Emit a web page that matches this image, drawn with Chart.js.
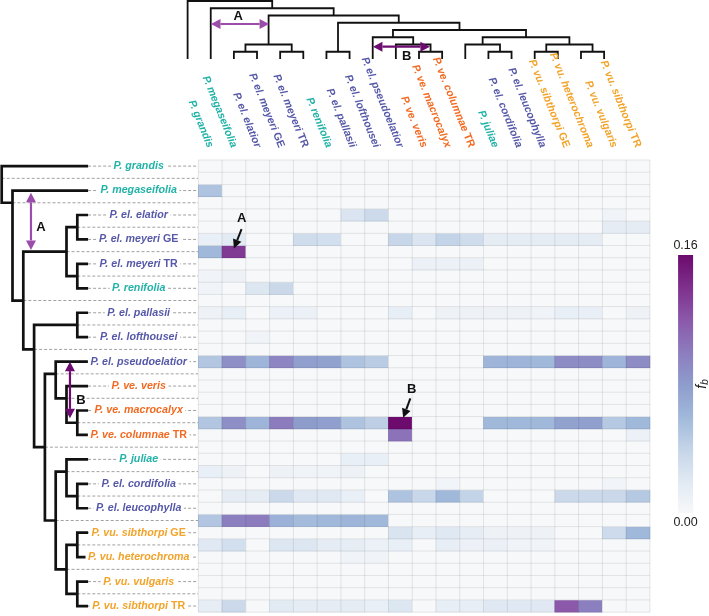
<!DOCTYPE html>
<html>
<head>
<meta charset="utf-8">
<script src="https://cdn.jsdelivr.net/npm/chart.js@4.4.1/dist/chart.umd.min.js"></script>
<style>
  html, body { margin: 0; padding: 0; background: #fff; }
  #wrap { position: relative; width: 709px; height: 616px; }
</style>
</head>
<body>
<div id="wrap"><canvas id="fbranch" width="709" height="616"></canvas></div>
<script>
// leaves of the tree, same order for rows (even rows) and columns
const species = ['P. grandis', 'P. megaseifolia', 'P. el. elatior', 'P. el. meyeri GE', 'P. el. meyeri TR',
  'P. renifolia', 'P. el. pallasii', 'P. el. lofthousei', 'P. el. pseudoelatior', 'P. ve. veris',
  'P. ve. macrocalyx', 'P. ve. columnae TR', 'P. juliae', 'P. el. cordifolia', 'P. el. leucophylla',
  'P. vu. sibthorpi GE', 'P. vu. heterochroma', 'P. vu. vulgaris', 'P. vu. sibthorpi TR'];
const speciesGroup = ['other', 'other', 'el', 'el', 'el', 'other', 'el', 'el', 'el', 've',
  've', 've', 'other', 'el', 'el', 'vu', 'vu', 'vu', 'vu'];

// internal branches: [own row, child row, child row]  (leaf i sits on row 2*i)
const treeNodes = [
  [1, 0, 3], [3, 2, 11], [5, 4, 6], [7, 5, 9], [9, 8, 10], [11, 7, 15], [13, 12, 14], [15, 13, 23],
  [17, 16, 19], [19, 18, 21], [21, 20, 22], [23, 17, 29], [25, 24, 27], [27, 26, 28], [29, 25, 33],
  [31, 30, 32], [33, 31, 35], [35, 34, 36]
];

// f-branch values, one row per branch (37), one column per species (19)
const fbMatrix = [
  [0,0,0,0,0,0,0,0,0,0,0,0,0,0,0,0,0,0,0],
  [0,0,0,0,0,0,0,0,0,0,0,0,0,0,0,0,0,0,0],
  [0.052,0,0,0,0,0,0,0,0,0,0,0,0,0,0,0,0,0,0],
  [0,0,0,0,0,0,0,0,0,0,0,0,0,0,0,0,0,0,0],
  [0,0,0,0,0,0,0.024,0.034,0,0,0,0,0,0,0,0,0,0.006,0],
  [0,0,0,0,0,0,0,0,0,0,0,0,0,0,0,0,0,0.016,0.016],
  [0.012,0.018,0,0,0.032,0.03,0,0,0.038,0.024,0.04,0.032,0.016,0.016,0.016,0.016,0.016,0,0],
  [0.06,0.135,0,0,0,0,0,0,0,0,0,0,0,0,0,0,0,0,0],
  [0,0,0,0,0,0,0,0,0,0.01,0.01,0.01,0,0,0,0,0,0,0],
  [0.006,0.008,0,0,0,0,0,0,0,0,0,0,0,0,0,0,0,0,0],
  [0.006,0,0.022,0.036,0,0,0,0,0,0,0,0,0,0,0,0,0,0,0],
  [0,0,0,0,0,0,0,0,0,0,0,0,0,0,0,0,0,0,0],
  [0.008,0.012,0,0.01,0.01,0,0,0,0.014,0,0.008,0.008,0.008,0.008,0.006,0.012,0.012,0,0.008],
  [0,0,0,0,0,0,0,0,0,0,0,0,0,0,0,0,0,0,0],
  [0,0,0.006,0,0,0,0,0,0,0,0,0,0,0,0,0,0,0,0],
  [0,0,0,0,0,0,0,0,0,0,0,0,0,0,0,0,0,0,0],
  [0.05,0.088,0.062,0.094,0.078,0.076,0.052,0.046,0,0,0,0,0.062,0.062,0.06,0.09,0.09,0.062,0.09],
  [0,0,0,0,0,0,0,0,0,0,0,0,0,0,0,0,0,0,0],
  [0,0,0,0,0,0,0,0,0,0,0,0,0,0,0,0,0,0,0],
  [0,0,0,0,0,0,0,0,0,0,0,0,0,0,0,0,0,0,0],
  [0,0,0,0,0,0,0,0,0,0,0,0,0,0,0,0,0,0,0],
  [0.05,0.088,0.062,0.1,0.08,0.078,0.052,0.044,0.16,0,0,0,0.06,0.06,0.06,0.076,0.078,0.048,0.06],
  [0,0,0,0,0,0,0,0,0.105,0,0,0,0,0,0,0,0,0,0.01],
  [0,0,0,0,0,0,0,0,0,0,0,0,0,0,0,0,0,0,0],
  [0,0,0,0,0,0,0.012,0.012,0,0,0,0,0,0,0,0,0,0,0],
  [0.012,0.008,0,0.008,0.006,0.006,0.008,0,0,0,0,0,0,0,0,0,0,0,0],
  [0,0,0,0,0,0,0,0,0,0,0.005,0,0,0,0,0,0,0.005,0],
  [0,0.016,0.016,0.035,0.02,0.02,0.012,0,0.052,0.037,0.06,0.04,0,0,0,0.035,0.035,0.036,0.048],
  [0,0,0,0,0,0,0,0,0,0,0,0,0,0,0,0,0,0,0],
  [0.05,0.098,0.1,0.065,0.058,0.06,0.062,0.06,0,0,0,0,0,0,0,0,0,0,0],
  [0,0,0,0,0,0,0,0,0.025,0.013,0.02,0.015,0.008,0.008,0.008,0,0,0.033,0.06],
  [0.02,0.03,0,0.022,0.022,0.016,0.015,0.01,0.012,0,0.013,0.009,0.011,0.006,0.006,0,0,0,0],
  [0,0,0,0,0,0,0.006,0.006,0,0,0,0,0,0,0,0,0,0,0],
  [0,0,0,0,0,0,0,0,0,0,0,0,0,0,0,0,0,0,0],
  [0,0,0,0,0,0,0,0,0,0,0,0,0,0,0,0,0,0,0],
  [0,0,0,0,0,0,0,0,0,0,0,0,0,0,0,0,0,0,0],
  [0.015,0.035,0,0.018,0.016,0.016,0.016,0.012,0.022,0,0.013,0.014,0.02,0.02,0.02,0.12,0.098,0,0]
];

// colour bar range
const fbMax = 0.16;
const colorbarTicks = [0, 0.16];

// ---- styles / layout (pixels) ----
const groupColors = { other: '#22b2a8', el: '#5658a8', ve: '#f26a21', vu: '#f2a32a' };
const cmapStops = [
  [0, [247, 248, 250]], [0.125, [224, 233, 243]], [0.25, [196, 212, 232]], [0.375, [160, 184, 218]],
  [0.5, [142, 156, 204]], [0.625, [140, 124, 190]], [0.75, [139, 88, 170]], [0.875, [126, 48, 140]],
  [1, [108, 10, 110]]
];
const L = {
  W: 709, H: 616,
  gridLeft: 198.3, gridTop: 160, cellW: 23.77, cellH: 12.22,
  leafEnd: 88.1, levelW: 10.8,           // left tree
  topLeaf0: 187.6, topLeafW: 23.14,      // top tree
  topBase: 59, levelH: 7.25,
  cbarBottom: 513, cbarTop: 255, cbarX: 20.5, cbarW: 15
};
const labelFont = (italic) => (italic ? 'italic ' : '') + 'bold 10.7px "Liberation Sans", Arial, sans-serif';

// annotations (A / B)
const cellArrows = [
  { text: 'A', at: [1.83, 4.75], from: [1.82, 5.65], to: [1.5, 7.25] },
  { text: 'B', at: [8.98, 18.77], from: [8.92, 19.5], to: [8.62, 21.1] }
];
const rowArrows = [
  { text: 'A', h: 5.29, from: 2.68, to: 7.36, label: [4.36, 5.48], color: '#9b4dab' },
  { text: 'B', h: 1.68, from: 16.5, to: 21.14, label: [0.66, 19.64], color: '#6c0c70' }
];
const colArrows = [
  { text: 'A', h: 4.83, from: 1.01, to: 3.52, label: [2.19, 5.93], color: '#9b4dab' },
  { text: 'B', h: 1.70, from: 8.01, to: 10.47, label: [9.47, 0.41], color: '#6c0c70' }
];

const nRows = fbMatrix.length;
const nCols = species.length;

// ---- tree helpers ----
const children = {};
treeNodes.forEach(([r, a, b]) => { children[r] = [a, b]; });
function heightOf(r) {
  if (!children[r]) return 0;
  const [a, b] = children[r];
  return 1 + Math.max(heightOf(a), heightOf(b));
}
function topX(r) {
  if (!children[r]) return r / 2;
  const [a, b] = children[r];
  return (topX(a) + topX(b)) / 2;
}

function fbColor(v) {
  const t = Math.max(0, Math.min(1, v / fbMax));
  for (let i = 1; i < cmapStops.length; i++) {
    const [t1, c1] = cmapStops[i];
    const [t0, c0] = cmapStops[i - 1];
    if (t <= t1) {
      const k = (t - t0) / (t1 - t0);
      const c = c0.map((v0, j) => Math.round(v0 + (c1[j] - v0) * k));
      return `rgb(${c.join(',')})`;
    }
  }
  return `rgb(${cmapStops[cmapStops.length - 1][1].join(',')})`;
}

// heatmap rows as floating bars
const heatDatasets = fbMatrix.map((vals, r) => ({
  type: 'bar',
  xAxisID: 'x',
  yAxisID: 'y',
  data: vals.map((v, c) => ({ x: c + 0.5, y: [r, r + 1] })),
  backgroundColor: vals.map(fbColor),
  borderWidth: 0,
  barPercentage: 1,
  categoryPercentage: 1,
  grouped: false
}));

const colorbarDataset = {
  type: 'bar',
  xAxisID: 'x',
  yAxisID: 'yc',
  data: [{ x: L.cbarX, y: [0, fbMax] }],
  backgroundColor(context) {
    const chart = context.chart;
    const yc = chart.scales.yc;
    const p0 = yc ? yc.getPixelForValue(0) : NaN;
    const p1 = yc ? yc.getPixelForValue(fbMax) : NaN;
    if (!isFinite(p0) || !isFinite(p1)) return fbColor(fbMax / 2);
    const g = chart.ctx.createLinearGradient(0, p0, 0, p1);
    cmapStops.forEach(([t, rgb]) => g.addColorStop(t, `rgb(${rgb.join(',')})`));
    return g;
  },
  borderWidth: 0,
  barPercentage: L.cbarW / L.cellW,
  categoryPercentage: 1,
  grouped: false
};

// left tree (x = level, y = row)
const leftPts = [];
treeNodes.forEach(([r, a, b]) => {
  const h = heightOf(r);
  leftPts.push({ x: heightOf(a), y: a + 0.5 }, { x: h, y: a + 0.5 }, { x: h, y: b + 0.5 },
    { x: heightOf(b), y: b + 0.5 }, { x: h, y: null });
});
// top tree (x = leaf index, y = level)
const topPts = [];
treeNodes.forEach(([r, a, b]) => {
  const h = heightOf(r);
  topPts.push({ x: topX(a), y: heightOf(a) }, { x: topX(a), y: h }, { x: topX(b), y: h },
    { x: topX(b), y: heightOf(b) }, { x: topX(b), y: null });
});

const treeLine = (data, xAxisID, yAxisID, width) => ({
  type: 'line', xAxisID, yAxisID, data,
  borderColor: '#111', borderWidth: width, pointRadius: 0, fill: false, tension: 0,
  spanGaps: false, borderJoinStyle: 'miter', borderCapStyle: 'butt', clip: false
});

function labelParts(name) {
  const m = name.match(/^(.*\S)\s+(GE|TR)$/);
  return m ? [[m[1] + ' ', true], [m[2], false]] : [[name, true]];
}
function drawLabel(ctx, name, color, align, bg) {
  const parts = labelParts(name);
  const widths = parts.map(([t, it]) => { ctx.font = labelFont(it); return ctx.measureText(t).width; });
  const total = widths.reduce((s, w) => s + w, 0);
  let x0 = align === 'center' ? -total / 2 : -total;
  if (bg) {
    ctx.fillStyle = '#fff';
    ctx.fillRect(x0 - 2.5, -5, total + 5, 10);
  }
  ctx.fillStyle = color;
  ctx.textAlign = 'left';
  ctx.textBaseline = 'middle';
  parts.forEach(([t, it], i) => { ctx.font = labelFont(it); ctx.fillText(t, x0, 0); x0 += widths[i]; });
}
function arrowHead(ctx, fx, fy, tx, ty, len, half) {
  const a = Math.atan2(ty - fy, tx - fx);
  const bx = tx - len * Math.cos(a), by = ty - len * Math.sin(a);
  ctx.beginPath();
  ctx.moveTo(tx, ty);
  ctx.lineTo(bx + half * Math.sin(a), by - half * Math.cos(a));
  ctx.lineTo(bx - half * Math.sin(a), by + half * Math.cos(a));
  ctx.closePath();
  ctx.fill();
  return [bx, by];
}
function doubleArrow(ctx, x1, y1, x2, y2, color) {
  ctx.save();
  ctx.strokeStyle = color; ctx.fillStyle = color; ctx.lineWidth = 2.2;
  const [ax, ay] = arrowHead(ctx, x2, y2, x1, y1, 9.5, 5);
  const [bx, by] = arrowHead(ctx, x1, y1, x2, y2, 9.5, 5);
  ctx.beginPath(); ctx.moveTo(ax, ay); ctx.lineTo(bx, by); ctx.stroke();
  ctx.restore();
}
function letter(ctx, t, px, py) {
  ctx.save();
  ctx.fillStyle = '#111';
  ctx.font = 'bold 13px "Liberation Sans", Arial, sans-serif';
  ctx.textAlign = 'center'; ctx.textBaseline = 'middle';
  ctx.fillText(t, px, py);
  ctx.restore();
}

const fbranchDecor = {
  id: 'fbranchDecor',
  beforeDatasetsDraw(chart) {
    const { ctx, scales: { x, y, xl } } = chart;
    ctx.save();
    ctx.strokeStyle = '#969696';
    ctx.lineWidth = 0.9;
    ctx.setLineDash([3, 2]);
    for (let r = 0; r < nRows; r++) {
      const py = y.getPixelForValue(r + 0.5);
      ctx.beginPath();
      ctx.moveTo(xl.getPixelForValue(heightOf(r)), py);
      ctx.lineTo(x.getPixelForValue(0), py);
      ctx.stroke();
    }
    ctx.restore();
  },
  afterDatasetsDraw(chart) {
    const { ctx, scales: { x, y, xl, xt, yt, yc } } = chart;

    // heatmap grid
    ctx.save();
    ctx.strokeStyle = 'rgba(0,0,0,0.09)';
    ctx.lineWidth = 1;
    const gx0 = x.getPixelForValue(0), gx1 = x.getPixelForValue(nCols);
    const gy0 = y.getPixelForValue(0), gy1 = y.getPixelForValue(nRows);
    for (let c = 0; c <= nCols; c++) {
      const px = x.getPixelForValue(c);
      ctx.beginPath(); ctx.moveTo(px, gy0); ctx.lineTo(px, gy1); ctx.stroke();
    }
    for (let r = 0; r <= nRows; r++) {
      const py = y.getPixelForValue(r);
      ctx.beginPath(); ctx.moveTo(gx0, py); ctx.lineTo(gx1, py); ctx.stroke();
    }
    ctx.restore();

    // row labels
    const labelX = (xl.getPixelForValue(0) + x.getPixelForValue(0)) / 2 - 4.5;
    species.forEach((name, i) => {
      ctx.save();
      ctx.translate(labelX, y.getPixelForValue(2 * i + 0.5));
      drawLabel(ctx, name, groupColors[speciesGroup[i]], 'center', true);
      ctx.restore();
    });

    // column labels
    species.forEach((name, i) => {
      ctx.save();
      ctx.translate(x.getPixelForValue(i + 0.5), y.getPixelForValue(-1.05));
      ctx.rotate(68 * Math.PI / 180);
      drawLabel(ctx, name, groupColors[speciesGroup[i]], 'right', false);
      ctx.restore();
    });

    // A / B arrows on the trees
    rowArrows.forEach(a => {
      doubleArrow(ctx, xl.getPixelForValue(a.h), y.getPixelForValue(a.from),
        xl.getPixelForValue(a.h), y.getPixelForValue(a.to), a.color);
      letter(ctx, a.text, xl.getPixelForValue(a.label[0]), y.getPixelForValue(a.label[1]));
    });
    colArrows.forEach(a => {
      doubleArrow(ctx, xt.getPixelForValue(a.from), yt.getPixelForValue(a.h),
        xt.getPixelForValue(a.to), yt.getPixelForValue(a.h), a.color);
      letter(ctx, a.text, xt.getPixelForValue(a.label[0]), yt.getPixelForValue(a.label[1]));
    });
    // A / B arrows into the heatmap
    cellArrows.forEach(a => {
      const fx = x.getPixelForValue(a.from[0]), fy = y.getPixelForValue(a.from[1]);
      const tx = x.getPixelForValue(a.to[0]), ty = y.getPixelForValue(a.to[1]);
      ctx.save();
      ctx.strokeStyle = '#111'; ctx.fillStyle = '#111'; ctx.lineWidth = 2;
      const [bx, by] = arrowHead(ctx, fx, fy, tx, ty, 9, 4.5);
      ctx.beginPath(); ctx.moveTo(fx, fy); ctx.lineTo(bx, by); ctx.stroke();
      ctx.restore();
      letter(ctx, a.text, x.getPixelForValue(a.at[0]), y.getPixelForValue(a.at[1]));
    });

    // colour bar ticks and title
    const cx = x.getPixelForValue(L.cbarX);
    ctx.save();
    ctx.fillStyle = '#222';
    ctx.font = '12.5px "Liberation Sans", Arial, sans-serif';
    ctx.textAlign = 'center';
    ctx.textBaseline = 'middle';
    ctx.fillText(colorbarTicks[1].toFixed(2), cx, yc.getPixelForValue(colorbarTicks[1]) - 9);
    ctx.fillText(colorbarTicks[0].toFixed(2), cx, yc.getPixelForValue(colorbarTicks[0]) + 10);
    ctx.translate(cx + 16.5, yc.getPixelForValue(fbMax / 2));
    ctx.rotate(-Math.PI / 2);
    ctx.font = 'italic 14px "Liberation Sans", Arial, sans-serif';
    const fw = ctx.measureText('f').width;
    ctx.font = 'italic 10px "Liberation Sans", Arial, sans-serif';
    const bw = ctx.measureText('b').width;
    ctx.textAlign = 'left';
    ctx.font = 'italic 14px "Liberation Sans", Arial, sans-serif';
    ctx.fillText('f', -(fw + bw) / 2, 0);
    ctx.font = 'italic 10px "Liberation Sans", Arial, sans-serif';
    ctx.fillText('b', -(fw + bw) / 2 + fw, 3);
    ctx.restore();
  }
};

const cbPerUnit = (L.cbarBottom - L.cbarTop) / fbMax;
const hidden = { display: false, offset: false, grid: { offset: false } };

new Chart(document.getElementById('fbranch'), {
  type: 'bar',
  data: {
    datasets: [
      ...heatDatasets,
      colorbarDataset,
      treeLine(leftPts, 'xl', 'y', 2.7),
      treeLine(topPts, 'xt', 'yt', 1.8)
    ]
  },
  options: {
    responsive: false,
    animation: false,
    events: [],
    layout: { padding: 0 },
    plugins: { legend: { display: false }, tooltip: { enabled: false } },
    scales: {
      x: {
        ...hidden, type: 'linear',
        min: -L.gridLeft / L.cellW, max: (L.W - L.gridLeft) / L.cellW,
        ticks: { stepSize: 1, includeBounds: false }
      },
      y: {
        ...hidden, type: 'linear', reverse: true,
        min: -L.gridTop / L.cellH, max: (L.H - L.gridTop) / L.cellH
      },
      xl: {
        ...hidden, type: 'linear', axis: 'x', reverse: true,
        min: (L.leafEnd - L.W) / L.levelW, max: L.leafEnd / L.levelW
      },
      xt: {
        ...hidden, type: 'linear', axis: 'x',
        min: -L.topLeaf0 / L.topLeafW, max: (L.W - L.topLeaf0) / L.topLeafW
      },
      yt: {
        ...hidden, type: 'linear', axis: 'y',
        min: (L.topBase - L.H) / L.levelH, max: L.topBase / L.levelH
      },
      yc: {
        ...hidden, type: 'linear', axis: 'y',
        min: -(L.H - L.cbarBottom) / cbPerUnit, max: fbMax + L.cbarTop / cbPerUnit
      }
    }
  },
  plugins: [fbranchDecor]
});
</script>
</body>
</html>
